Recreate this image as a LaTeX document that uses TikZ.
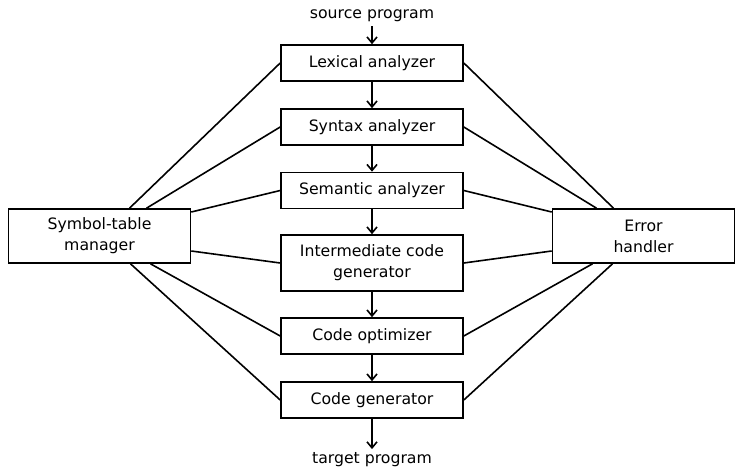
\documentclass[tikz,border=0pt]{standalone}
\usepackage{fontspec}
\setmainfont{DejaVu Sans}
\usetikzlibrary{arrows.meta,positioning}

\tikzset{
	phase/.style={draw, rectangle, minimum width=182pt, minimum height=36pt, align=center},
	sidebox/.style={draw, rectangle, minimum width=182pt, minimum height=54pt, align=center}
}

\begin{document}
\begin{tikzpicture}[auto, >={Straight Barb[length=6pt, width=10pt]}, line width=1.6pt, font=\fontsize{15.7pt}{21pt}\selectfont]
	\useasboundingbox (0pt,0pt) rectangle (735pt,-468pt);
	\node[phase] (lex) at (372pt,-63pt) {Lexical analyzer};
	\node[phase, below of=lex, node distance=64pt] (syn) {Syntax analyzer};
	\node[phase, below of=syn, node distance=63.5pt] (sem) {Semantic analyzer};
	\node[phase, below of=sem, node distance=72.5pt, minimum height=56pt] (icg) {Intermediate code\\generator};
	\node[phase, below of=icg, node distance=73pt] (opt) {Code optimizer};
	\node[phase, below of=opt, node distance=64pt] (gen) {Code generator};
	\node[above of=lex, node distance=47pt] (src) {source program};
	\node[below of=gen, node distance=60pt, inner sep=3pt] (tgt) {target program};
	\node[sidebox] (sym) at (99.5pt,-236pt) {Symbol-table\\manager};
	\node[sidebox] (err) at (643.5pt,-236pt) {Error\\handler};

	\foreach \a/\b in {src/lex, lex/syn, syn/sem, sem/icg, icg/opt, opt/gen, gen/tgt}
		\draw[->] (\a) -- (\b);

	\foreach \m/\s in {lex/30, syn/47}
	{
		\draw ([xshift=\s pt]sym.north) -- (\m.west);
		\draw ([xshift=-\s pt]err.north) -- (\m.east);
	}
	\foreach \m/\s in {sem/24, icg/-15}
	{
		\draw ([yshift=\s pt]sym.east) -- (\m.west);
		\draw ([yshift=\s pt]err.west) -- (\m.east);
	}
	\foreach \m/\s in {opt/51, gen/31}
	{
		\draw ([xshift=\s pt]sym.south) -- (\m.west);
		\draw ([xshift=-\s pt]err.south) -- (\m.east);
	}
\end{tikzpicture}
\end{document}
